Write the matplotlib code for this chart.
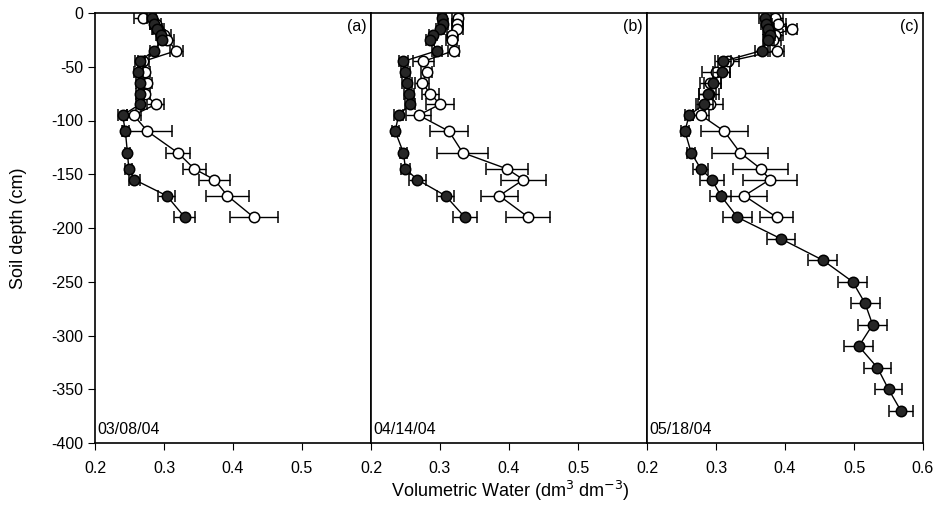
import matplotlib.pyplot as plt

plt.rcParams['font.family'] = ['Liberation Sans', 'DejaVu Sans']
plt.rcParams['axes.unicode_minus'] = False

# Tiefen (cm) fuer die oberen 190 cm, gemeinsam fuer alle Profile
depth = [-5, -10, -15, -20, -25, -35, -45, -55, -65, -75, -85, -95,
         -110, -130, -145, -155, -170, -190]
# tiefere Punkte, nur im Mai gemessen
depth_deep = [-210, -230, -250, -270, -290, -310, -330, -350, -370]

# (a) 03/08/04
a_filled = [0.282, 0.285, 0.290, 0.295, 0.297, 0.285, 0.265, 0.263, 0.265,
            0.265, 0.265, 0.240, 0.244, 0.247, 0.249, 0.257, 0.304, 0.330]
a_filled_err = [0.006, 0.006, 0.007, 0.007, 0.006, 0.006, 0.007, 0.007, 0.006,
                0.006, 0.006, 0.007, 0.005, 0.004, 0.005, 0.008, 0.012, 0.015]
a_open = [0.270, 0.288, 0.292, 0.300, 0.305, 0.318, 0.270, 0.272, 0.275,
          0.272, 0.288, 0.256, 0.276, 0.320, 0.344, 0.373, 0.392, 0.430]
a_open_err = [0.013, 0.008, 0.008, 0.010, 0.010, 0.010, 0.008, 0.007, 0.008,
              0.008, 0.012, 0.010, 0.035, 0.017, 0.017, 0.022, 0.031, 0.035]

# (b) 04/14/04
b_filled = [0.303, 0.305, 0.300, 0.290, 0.286, 0.296, 0.247, 0.250, 0.252,
            0.255, 0.257, 0.240, 0.235, 0.247, 0.250, 0.267, 0.308, 0.336]
b_filled_err = [0.006, 0.006, 0.006, 0.006, 0.006, 0.007, 0.007, 0.007, 0.007,
                0.007, 0.007, 0.006, 0.005, 0.005, 0.006, 0.012, 0.012, 0.017]
b_open = [0.326, 0.325, 0.325, 0.318, 0.317, 0.320, 0.276, 0.281, 0.274,
          0.286, 0.300, 0.269, 0.313, 0.333, 0.397, 0.421, 0.386, 0.428]
b_open_err = [0.008, 0.008, 0.008, 0.008, 0.008, 0.008, 0.015, 0.008, 0.010,
              0.012, 0.020, 0.018, 0.027, 0.037, 0.030, 0.033, 0.027, 0.032]

# (c) 05/18/04
c_filled = [0.371, 0.373, 0.376, 0.378, 0.376, 0.366, 0.310, 0.308, 0.295,
            0.288, 0.283, 0.261, 0.255, 0.264, 0.278, 0.294, 0.307, 0.331]
c_filled_err = [0.008, 0.008, 0.008, 0.008, 0.008, 0.010, 0.012, 0.012, 0.012,
                0.012, 0.012, 0.006, 0.006, 0.006, 0.011, 0.017, 0.015, 0.021]
c_open = [0.385, 0.390, 0.410, 0.385, 0.382, 0.388, 0.318, 0.300, 0.292,
          0.290, 0.292, 0.278, 0.312, 0.335, 0.365, 0.378, 0.341, 0.388]
c_open_err = [0.012, 0.012, 0.008, 0.012, 0.012, 0.010, 0.015, 0.020, 0.015,
              0.015, 0.018, 0.012, 0.034, 0.041, 0.040, 0.039, 0.033, 0.024]
c_deep = [0.394, 0.455, 0.498, 0.516, 0.527, 0.507, 0.534, 0.550, 0.568]
c_deep_err = [0.020, 0.021, 0.021, 0.021, 0.021, 0.021, 0.020, 0.020, 0.018]

panels = [
    ('(a)', '03/08/04', a_filled, a_filled_err, a_open, a_open_err),
    ('(b)', '04/14/04', b_filled, b_filled_err, b_open, b_open_err),
    ('(c)', '05/18/04', c_filled + c_deep, c_filled_err + c_deep_err, c_open, c_open_err),
]

fig = plt.figure(figsize=(9.45, 5.09), dpi=100)
left = 95 / 945
width = (923 - 95) / 945 / 3
bottom = 1 - 443 / 509
height = (443 - 13) / 509

for i, (tag, datum, fw, fe, ow, oe) in enumerate(panels):
    ax = fig.add_axes([left + i * width, bottom, width, height])
    fd = depth + depth_deep if len(fw) > len(depth) else depth
    ax.errorbar(ow, depth, xerr=oe, color='black', lw=1, elinewidth=1, capsize=4,
                marker='o', ms=7.5, mfc='white', mec='black', mew=1.1, zorder=2)
    ax.errorbar(fw, fd, xerr=fe, color='black', lw=1, elinewidth=1, capsize=4,
                marker='o', ms=7.5, mfc='#262626', mec='black', mew=1.1, zorder=3)
    ax.set_xlim(0.2, 0.6)
    ax.set_ylim(-400, 0)
    if i < 2:
        ax.set_xticks([0.2, 0.3, 0.4, 0.5])
    else:
        ax.set_xticks([0.2, 0.3, 0.4, 0.5, 0.6])
    ax.set_xticklabels([f'{t:.1f}' for t in ax.get_xticks()])
    ax.tick_params(axis='x', direction='out', length=5, labelsize=11.5, pad=8)
    if i == 0:
        ax.set_yticks(range(-400, 1, 50))
        ax.tick_params(axis='y', direction='out', length=5, labelsize=11.5)
        ax.set_ylabel('Soil depth (cm)', fontsize=13)
        ax.yaxis.set_label_coords(-0.245, 0.5)
    else:
        ax.set_yticks([])
    for s in ax.spines.values():
        s.set_linewidth(1.2)
    ax.text(0.985, 0.985, tag, transform=ax.transAxes, ha='right', va='top', fontsize=11.5)
    ax.text(0.01, 0.015, datum, transform=ax.transAxes, ha='left', va='bottom', fontsize=11.5)

fig.text(0.54, 0.012, 'Volumetric Water (dm$^3$ dm$^{-3}$)', ha='center', va='bottom',
         fontsize=13)

fig.savefig('out.png', dpi=100)
